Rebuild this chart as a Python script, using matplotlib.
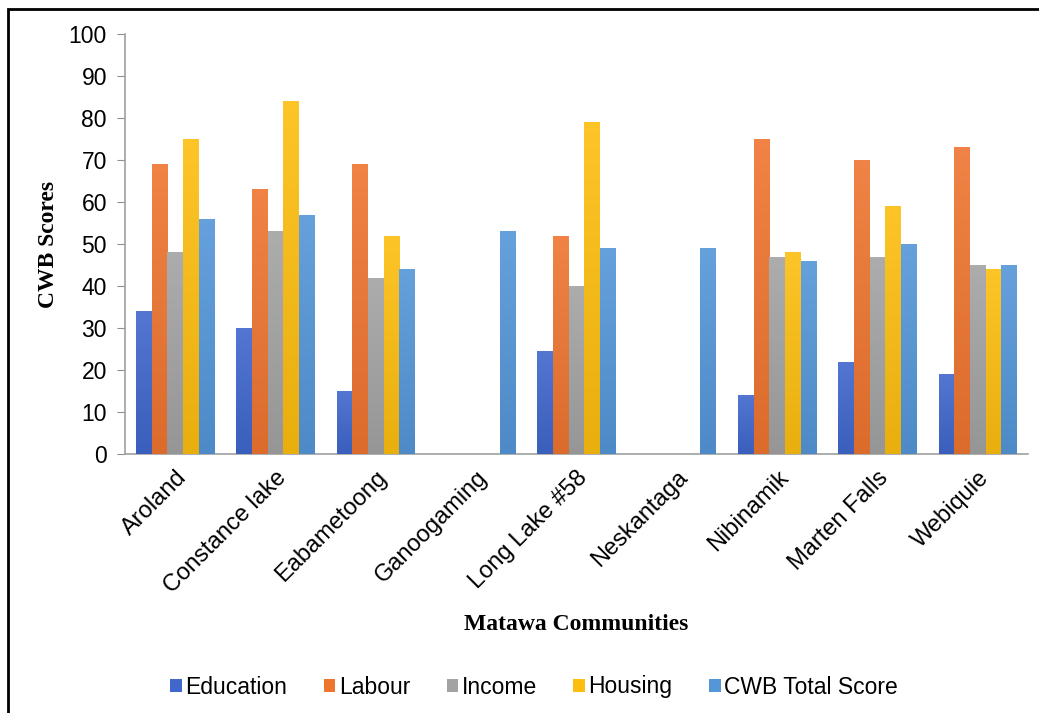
import numpy as np
import matplotlib
matplotlib.use("Agg")
import matplotlib.pyplot as plt
from matplotlib.patches import Rectangle
from matplotlib.colors import to_rgb

communities = ["Aroland", "Constance lake", "Eabametoong", "Ganoogaming",
               "Long Lake #58", "Neskantaga", "Nibinamik", "Marten Falls", "Webiquie"]
education = [34, 30, 15, 0, 24.5, 0, 14, 22, 19]
labour = [69, 63, 69, 0, 52, 0, 75, 70, 73]
income = [48, 53, 42, 0, 40, 0, 47, 47, 45]
housing = [75, 84, 52, 0, 79, 0, 48, 59, 44]
cwb_total = [56, 57, 44, 53, 49, 49, 46, 50, 45]

series = [("Education", education, "#3F67CC"),
          ("Labour", labour, "#EE7530"),
          ("Income", income, "#A3A3A3"),
          ("Housing", housing, "#FDBE10"),
          ("CWB Total Score", cwb_total, "#5496D8")]

plt.rcParams['font.family'] = ['Liberation Sans', 'DejaVu Sans']

fig = plt.figure(figsize=(10.39, 7.13), dpi=100)
ax = fig.add_axes([125/1039, 1-454/713, (1028-125)/1039, (454-34)/713])

x = np.arange(len(communities))
w = 0.156
for i, (name, vals, col) in enumerate(series):
    bars = ax.bar(x + (i-2)*w, vals, w, color=col, label=name, zorder=2)
    # light vertical gradient like the office chart fill
    c = np.array(to_rgb(col))
    grad = np.linspace(0, 1, 64)[:, None, None]
    img = c*(0.92 + 0.08*grad) + (1-c)*0.10*grad
    img = np.clip(img, 0, 1)
    for b in bars:
        if b.get_height() <= 0:
            continue
        im = ax.imshow(img, extent=[b.get_x(), b.get_x()+b.get_width(), 0, b.get_height()],
                       aspect='auto', origin='lower', zorder=3)
        im.set_clip_path(b)

ax.set_xlim(-0.5, len(communities)-0.5)
ax.set_ylim(0, 100)
ax.set_yticks(range(0, 101, 10))
ax.set_xticks(x)
ax.set_xticklabels(communities, rotation=45, ha='right', rotation_mode='anchor')
ax.tick_params(axis='y', labelsize=16.5, length=6, color='#909090', pad=7)
ax.tick_params(axis='x', labelsize=17, length=0, pad=9)
for s in ['top', 'right']:
    ax.spines[s].set_visible(False)
for s in ['left', 'bottom']:
    ax.spines[s].set_color('#A0A0A0')
    ax.spines[s].set_linewidth(1.2)

ax.set_ylabel("CWB Scores", family='Liberation Serif', fontweight='bold', fontsize=17, labelpad=7)
ax.set_xlabel("Matawa Communities", family='Liberation Serif', fontweight='bold', fontsize=17, labelpad=12)

ax.legend(loc='center', bbox_to_anchor=(534/1039, 1-687/713), bbox_transform=fig.transFigure,
          ncol=5, frameon=False, fontsize=16.5, handlelength=0.5, handleheight=0.5,
          handletextpad=0.15, columnspacing=1.6)

fig.patches.append(Rectangle((8/1039, -0.05), 1.1, (1-9/713)+0.05, transform=fig.transFigure,
                             fill=False, edgecolor='black', linewidth=2))

fig.savefig("out.png", dpi=100)
